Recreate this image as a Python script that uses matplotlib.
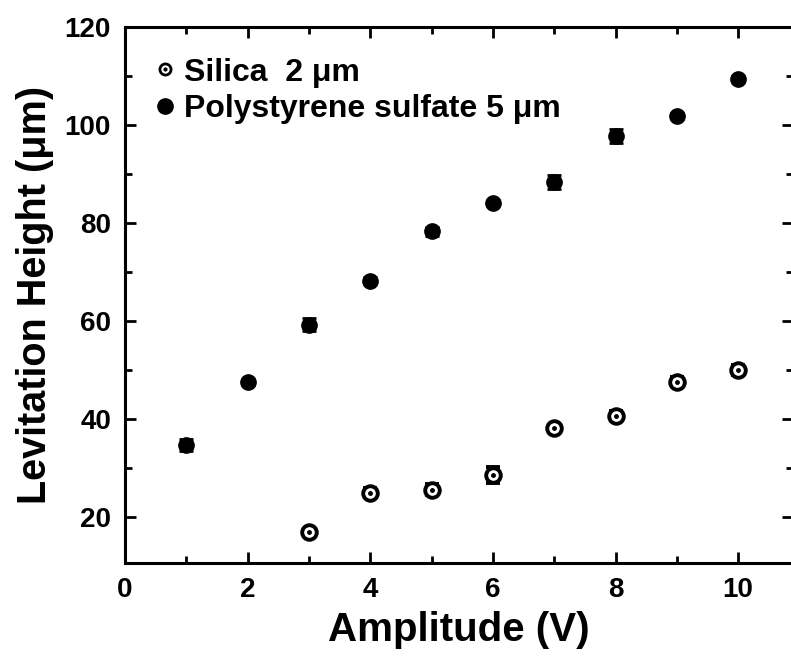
import numpy as np
import matplotlib
matplotlib.use('Agg')
from matplotlib import pyplot as plt
from matplotlib.ticker import MultipleLocator

plt.rcParams['font.family'] = ['Liberation Sans', 'DejaVu Sans']
plt.rcParams['font.weight'] = 'bold'

# polystyrene sulfate 5 um
ps_x = [1, 2, 3, 4, 5, 6, 7, 8, 9, 10]
ps_y = [34.7, 47.5, 59.2, 68.2, 78.3, 84.1, 88.4, 97.8, 101.8, 109.4]
ps_err = [1.2, 0.6, 1.3, 0.7, 0.9, 0.5, 1.4, 1.4, 0.6, 0.6]

# silica 2 um
si_x = [3, 4, 5, 6, 7, 8, 9, 10]
si_y = [16.8, 24.9, 25.5, 28.5, 38.1, 40.6, 47.6, 49.9]
si_err = [0.6, 1.0, 1.1, 1.6, 0.6, 0.9, 0.9, 1.0]

fig = plt.figure(figsize=(7.91, 6.64), dpi=100)
ax = fig.add_axes([0.158, 0.152, 0.845, 0.807])

ax.errorbar(ps_x, ps_y, yerr=ps_err, fmt='o', color='black', ms=11,
            capsize=5, capthick=2, elinewidth=2)
ax.errorbar(si_x, si_y, yerr=si_err, fmt='o', color='black', mfc='white',
            mec='black', mew=2.8, ms=10.5, capsize=5, capthick=2, elinewidth=2)
ax.plot(si_x, si_y, 'o', color='black', ms=2.5, zorder=5)

# legend handles
h_si1, = ax.plot([], [], 'o', mfc='white', mec='black', mew=2, ms=8)
h_si2, = ax.plot([], [], 'o', color='black', ms=2)
h_ps, = ax.plot([], [], 'o', color='black', ms=11)
leg = ax.legend([(h_si1, h_si2), h_ps],
                ['Silica  2 \u03bcm', 'Polystyrene sulfate 5 \u03bcm'],
                loc='upper left', frameon=False, fontsize=23,
                handletextpad=0.05, handlelength=1.1, labelspacing=0.2,
                borderaxespad=0.3, bbox_to_anchor=(0.0, 0.985))
for t in leg.get_texts():
    t.set_fontweight('bold')

ax.set_xlim(0, 10.9)
ax.set_ylim(10.5, 120)
ax.xaxis.set_major_locator(MultipleLocator(2))
ax.xaxis.set_minor_locator(MultipleLocator(1))
ax.yaxis.set_major_locator(MultipleLocator(20))
ax.yaxis.set_minor_locator(MultipleLocator(10))
ax.tick_params(which='both', direction='in', top=True, right=True, width=2)
ax.tick_params(which='major', length=8, labelsize=20, pad=10)
ax.tick_params(which='minor', length=5)
for lab in ax.get_xticklabels() + ax.get_yticklabels():
    lab.set_fontweight('bold')
for sp in ax.spines.values():
    sp.set_linewidth(2.2)

ax.set_xlabel('Amplitude (V)', fontsize=29, fontweight='bold', labelpad=6)
ax.set_ylabel('Levitation Height (\u03bcm)', fontsize=28.5, fontweight='bold', labelpad=8)

fig.savefig('out.png', dpi=100)
